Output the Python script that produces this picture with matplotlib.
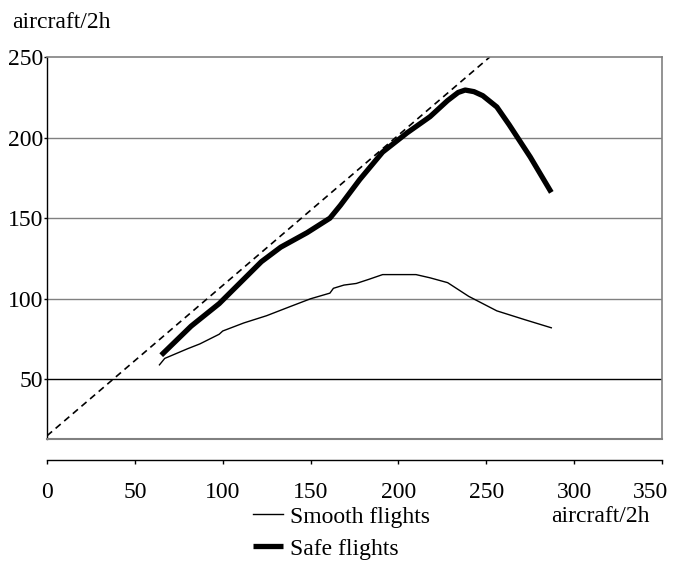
import matplotlib
matplotlib.use("Agg")
import matplotlib.pyplot as plt
import matplotlib.transforms as mtransforms

plt.rcParams['font.family'] = ['Liberation Serif', 'DejaVu Serif']

# ---- data ----
safe_x = [65, 82, 98, 110, 122, 133, 148, 161, 167, 178, 191, 205, 218, 228, 234, 238, 243, 248, 256, 263, 275, 287]
safe_y = [65, 83, 97, 110, 123, 132, 141, 150, 158, 174, 191, 203, 213, 223, 228, 229.5, 228.5, 226, 219, 208, 188, 166]

smooth_x = [64, 67, 80, 87, 98, 100, 112, 125, 138, 150, 161, 163, 169, 176, 183, 191, 200, 210, 218, 228, 240, 256, 272, 287]
smooth_y = [59, 63, 69, 72, 78, 80, 85, 89.5, 95, 100, 103.5, 106.5, 108.5, 109.5, 112, 115, 115, 115, 113, 110, 101.5, 92.5, 87, 82]

ref_x = [0, 252]
ref_y = [15, 250]

x_ticks = [0, 50, 100, 150, 200, 250, 300, 350]
y_ticks = [50, 100, 150, 200, 250]
series_labels = ["Smooth flights", "Safe flights"]
axis_unit = "aircraft/2h"

W, H = 673, 561
fig = plt.figure(figsize=(W / 100, H / 100), dpi=100)
ax = fig.add_axes([47 / W, 1 - 439 / H, (662 - 47) / W, (439 - 57) / H])

FS = 17
grey = "#808080"

ax.set_xlim(0, 350)
ax.set_ylim(13, 250)

# gridlines
for yv in y_ticks[:-1]:
    ax.axhline(yv, color=("black" if yv == 50 else grey), lw=1.0, zorder=1)

# reference diagonal
ax.plot(ref_x, ref_y, color="black", lw=1.2, dashes=(4, 2.8), zorder=2)
# series
l_smooth, = ax.plot(smooth_x, smooth_y, color="black", lw=1.0, zorder=3)
l_safe, = ax.plot(safe_x, safe_y, color="black", lw=3.8, solid_capstyle="butt",
                  solid_joinstyle="round", zorder=4)

# frame
ax.spines['top'].set_color(grey)
ax.spines['right'].set_color(grey)
ax.spines['top'].set_linewidth(1.2)
ax.spines['right'].set_linewidth(1.2)
ax.spines['left'].set_color("black")
ax.spines['left'].set_linewidth(1.0)
ax.spines['bottom'].set_position(('outward', 21 * 72 / 100))
ax.spines['bottom'].set_color("black")
ax.spines['bottom'].set_linewidth(1.0)
ax.plot([0, 1], [0, 0], transform=ax.transAxes, color=grey, lw=1.5, clip_on=False, zorder=5)

ax.set_xticks(x_ticks)
ax.set_yticks(y_ticks)
ax.set_xticklabels([str(v) for v in x_ticks])
ax.set_yticklabels([str(v) for v in y_ticks])
ax.tick_params(axis='x', direction='out', length=3, width=1, pad=13, labelsize=FS)
ax.tick_params(axis='y', direction='out', length=2, width=1, pad=1, labelsize=FS)

# the last x label sits slightly left so it stays inside the figure
last = ax.get_xticklabels()[-1]
last.set_transform(last.get_transform() +
                   mtransforms.ScaledTranslation(-12 / 100, 0, fig.dpi_scale_trans))

fig.text(12 / W, 1 - 22 / H, axis_unit, fontsize=FS, va='center', ha='left')
fig.text(551 / W, 1 - 517 / H, axis_unit, fontsize=FS, va='center', ha='left')

leg = fig.legend([l_smooth, l_safe], series_labels, loc='upper left',
                 bbox_to_anchor=(253 / W, 1 - 506 / H), frameon=False,
                 fontsize=FS, handlelength=1.25, handletextpad=0.3,
                 labelspacing=0.445, borderpad=0, borderaxespad=0)

fig.savefig("out.png", dpi=100)
